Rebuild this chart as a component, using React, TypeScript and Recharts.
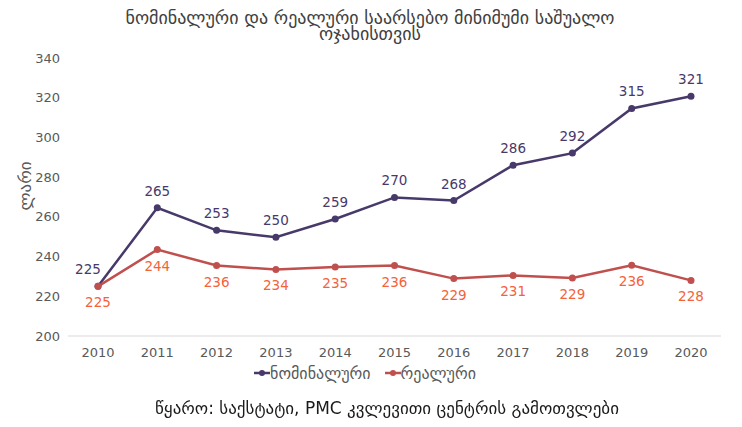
import React from "react";
import { LineChart, Line, XAxis, YAxis, LabelList } from "recharts";

const years = ["2010", "2011", "2012", "2013", "2014", "2015", "2016", "2017", "2018", "2019", "2020"];
const nominal = [225, 264.6, 253.2, 249.7, 258.9, 269.8, 268.2, 286.0, 292.1, 314.6, 320.7];
const real = [225, 243.5, 235.5, 233.5, 234.8, 235.5, 228.9, 230.5, 229.2, 235.6, 228.0];
const yTicks = [200, 220, 240, 260, 280, 300, 320, 340];

const NOM_COLOR = "#48396b";
const REAL_COLOR = "#c0504d";
const REAL_LABEL = "#f4623a";
const FONT = "'DejaVu Sans', sans-serif";

const data = years.map((year, i) => ({ year, nominal: nominal[i], real: real[i] }));

const nomLabel = (props: any) => {
  const { x, y, value, index } = props;
  const dx = index === 0 ? -10 : 0;
  return (
    <text x={x + dx} y={y - 12} textAnchor="middle" fill={NOM_COLOR} fontSize={13.5} fontFamily={FONT}>
      {Math.round(value)}
    </text>
  );
};

const realLabel = (props: any) => {
  const { x, y, value } = props;
  return (
    <text x={x} y={y + 21} textAnchor="middle" fill={REAL_LABEL} fontSize={13.5} fontFamily={FONT}>
      {Math.round(value)}
    </text>
  );
};

function LegendItem({ color, text }: { color: string; text: string }) {
  return (
    <span style={{ display: "inline-flex", alignItems: "center", margin: "0 7px" }}>
      <svg width={16} height={10}>
        <line x1={0} y1={5} x2={16} y2={5} stroke={color} strokeWidth={2.5} />
        <circle cx={8} cy={5} r={3} fill={color} />
      </svg>
      <span style={{ color: "#595959", fontSize: 16 }}>{text}</span>
    </span>
  );
}

export default function App() {
  return (
    <div style={{ position: "fixed", left: 0, top: 0, width: 742, height: 427, background: "#fff", fontFamily: FONT }}>
      <div style={{ position: "absolute", left: 115, top: 10, width: 510, textAlign: "center", fontSize: 18, lineHeight: "16px", color: "#404040" }}>
        ნომინალური და რეალური საარსებო მინიმუმი საშუალო ოჯახისთვის
      </div>
      <div
        style={{
          position: "absolute",
          left: 25,
          top: 186,
          transform: "translate(-50%, -50%) rotate(-90deg)",
          fontSize: 17,
          color: "#595959",
          whiteSpace: "nowrap",
        }}
      >
        ლარი
      </div>
      <LineChart width={742} height={427} data={data} margin={{ top: 58, right: 21, left: 8, bottom: 61 }}>
        <XAxis
          dataKey="year"
          axisLine={{ stroke: "#d9d9d9" }}
          tickLine={false}
          tick={{ fill: "#595959", fontSize: 13, fontFamily: FONT }}
          tickMargin={6}
          padding={{ left: 30, right: 30 }}
        />
        <YAxis
          domain={[200, 340]}
          ticks={yTicks}
          axisLine={false}
          tickLine={false}
          tick={{ fill: "#595959", fontSize: 13, fontFamily: FONT }}
          width={60}
        />
        <Line
          dataKey="nominal"
          stroke={NOM_COLOR}
          strokeWidth={2.5}
          dot={{ r: 3.5, fill: NOM_COLOR, stroke: NOM_COLOR, strokeWidth: 0 }}
          isAnimationActive={false}
        >
          <LabelList dataKey="nominal" content={nomLabel} />
        </Line>
        <Line
          dataKey="real"
          stroke={REAL_COLOR}
          strokeWidth={2.5}
          dot={{ r: 3.5, fill: REAL_COLOR, stroke: REAL_COLOR, strokeWidth: 0 }}
          isAnimationActive={false}
        >
          <LabelList dataKey="real" content={realLabel} />
        </Line>
      </LineChart>
      <div style={{ position: "absolute", left: 0, top: 363, width: 730, textAlign: "center" }}>
        <LegendItem color={NOM_COLOR} text="ნომინალური" />
        <LegendItem color={REAL_COLOR} text="რეალური" />
      </div>
      <div style={{ position: "absolute", left: 0, top: 398, width: 774, textAlign: "center", fontSize: 17, color: "#1a1a1a" }}>
        წყარო: საქსტატი, PMC კვლევითი ცენტრის გამოთვლები
      </div>
    </div>
  );
}
